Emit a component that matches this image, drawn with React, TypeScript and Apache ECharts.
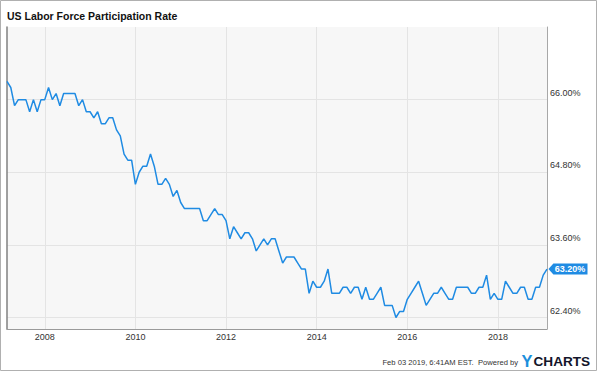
import React, { useEffect, useRef } from 'react';
import * as echarts from 'echarts';

const FONT = '"Liberation Sans", Arial, Helvetica, sans-serif';
const BLUE = '#1f8be3';

const chartTitle = 'US Labor Force Participation Rate';
const footerText = 'Feb 03 2019, 6:41AM EST.  Powered by';

// Monthly series starts at end of February 2007
const START_YEAR = 2007;
const START_MONTH = 2;

const rate2007 = [66.3, 66.2, 65.9, 66.0, 66.0, 66.0, 65.8, 66.0, 65.8, 66.0, 66.0];
const rate2008 = [66.2, 66.0, 66.1, 65.9, 66.1, 66.1, 66.1, 66.1, 65.9, 66.0, 65.8, 65.8];
const rate2009 = [65.7, 65.8, 65.6, 65.6, 65.7, 65.7, 65.5, 65.4, 65.1, 65.0, 65.0, 64.6];
const rate2010 = [64.8, 64.9, 64.9, 65.1, 64.9, 64.6, 64.6, 64.7, 64.6, 64.4, 64.5, 64.3];
const rate2011 = [64.2, 64.2, 64.2, 64.2, 64.2, 64.0, 64.0, 64.1, 64.2, 64.1, 64.1, 64.0];
const rate2012 = [63.7, 63.9, 63.8, 63.7, 63.8, 63.8, 63.7, 63.5, 63.6, 63.7, 63.6, 63.7];
const rate2013 = [63.7, 63.5, 63.3, 63.4, 63.4, 63.4, 63.3, 63.2, 63.2, 62.8, 63.0, 62.9];
const rate2014 = [62.9, 63.0, 63.2, 62.8, 62.8, 62.8, 62.9, 62.9, 62.8, 62.9, 62.9, 62.7];
const rate2015 = [62.9, 62.7, 62.7, 62.8, 62.9, 62.6, 62.6, 62.6, 62.4, 62.5, 62.5, 62.7];
const rate2016 = [62.8, 62.9, 63.0, 62.8, 62.6, 62.7, 62.8, 62.8, 62.9, 62.8, 62.7, 62.7];
const rate2017 = [62.9, 62.9, 62.9, 62.9, 62.8, 62.8, 62.9, 62.9, 63.1, 62.7, 62.8, 62.7];
const rate2018 = [62.7, 63.0, 62.9, 62.8, 62.8, 62.9, 62.9, 62.7, 62.7, 62.9, 62.9, 63.1];
const rate2019 = [63.2];

const yearTicks = [2008, 2010, 2012, 2014, 2016, 2018];
const rateTicks = [62.4, 63.6, 64.8, 66.0];

export default function App() {
  const ref = useRef<HTMLDivElement>(null);

  useEffect(() => {
    const chart = echarts.init(ref.current!, null, { renderer: 'svg' });
    const rates = [
      ...rate2007, ...rate2008, ...rate2009, ...rate2010, ...rate2011, ...rate2012,
      ...rate2013, ...rate2014, ...rate2015, ...rate2016, ...rate2017, ...rate2018, ...rate2019,
    ];
    const data = rates.map((v, i) => [START_YEAR + (START_MONTH + i) / 12, v]);
    const first = data[0];
    const last = data[data.length - 1];

    chart.setOption({
      animation: false,
      backgroundColor: '#ffffff',
      textStyle: { fontFamily: FONT },
      title: {
        text: chartTitle,
        left: 7,
        top: 10,
        padding: 0,
        textStyle: { fontSize: 10.5, fontWeight: 'bold', color: '#111', fontFamily: FONT },
      },
      grid: {
        left: 7,
        right: 53,
        top: 27,
        bottom: 43,
        show: true,
        backgroundColor: '#f7f7f7',
        borderWidth: 0,
      },
      xAxis: {
        type: 'value',
        min: first[0],
        max: last[0],
        axisLine: { show: true, onZero: false, lineStyle: { color: '#9a9a9a', width: 1 } },
        axisTick: { show: false, customValues: yearTicks },
        axisLabel: {
          customValues: yearTicks,
          formatter: (v: number) => String(Math.round(v)),
          fontSize: 9,
          color: '#333',
          margin: 3,
          fontFamily: FONT,
        },
        splitLine: { show: true, lineStyle: { color: '#e4e4e4', width: 1 } },
      },
      yAxis: [
        {
          type: 'value',
          position: 'right',
          min: 62.21,
          max: 67.2,
          axisLine: { show: true, onZero: false, lineStyle: { color: '#a8a8a8', width: 1 } },
          axisTick: { show: false, customValues: rateTicks },
          axisLabel: {
            customValues: rateTicks,
            formatter: (v: number) => v.toFixed(2) + '%',
            fontSize: 9,
            color: '#333',
            margin: 3,
            verticalAlign: 'bottom',
            lineHeight: 14,
            fontFamily: FONT,
          },
          splitLine: { show: true, lineStyle: { color: '#e4e4e4', width: 1 } },
        },
        {
          type: 'value',
          position: 'left',
          min: 62.21,
          max: 67.2,
          axisLine: { show: true, onZero: false, lineStyle: { color: '#808080', width: 1.5 } },
          axisTick: { show: false },
          axisLabel: { show: false },
          splitLine: { show: false },
        },
      ],
      series: [
        {
          type: 'line',
          data,
          yAxisIndex: 0,
          showSymbol: false,
          symbol: 'none',
          lineStyle: { color: BLUE, width: 1.5 },
          itemStyle: { color: BLUE },
          markPoint: {
            symbol: 'path://M0,5L5,0L40,0L40,10L5,10Z',
            symbolSize: [39, 11],
            symbolOffset: [21, 0],
            symbolKeepAspect: false,
            itemStyle: { color: BLUE },
            label: {
              show: true,
              position: 'inside',
              offset: [2, 0],
              formatter: (p: any) => Number(p.value).toFixed(2) + '%',
              color: '#fff',
              fontSize: 9,
              fontWeight: 'bold',
              fontFamily: FONT,
            },
            data: [{ coord: last, value: last[1] }],
          },
        },
      ],
      graphic: [
        {
          type: 'rect',
          silent: true,
          shape: { x: 0.5, y: 0.5, width: 596, height: 370 },
          style: { fill: 'none', stroke: '#b0b0b0', lineWidth: 1 },
        },
        {
          type: 'text',
          x: 518,
          y: 362,
          style: {
            text: footerText,
            fontSize: 7.6,
            fontFamily: FONT,
            fill: '#333',
            align: 'right',
            verticalAlign: 'middle',
          },
        },
        {
          type: 'text',
          x: 521.5,
          y: 360.5,
          style: {
            text: 'Y',
            fontSize: 16.5,
            fontWeight: 'bold',
            fontFamily: FONT,
            fill: '#1b8fdc',
            align: 'left',
            verticalAlign: 'middle',
          },
        },
        {
          type: 'text',
          x: 533.5,
          y: 361,
          style: {
            text: 'CHARTS',
            fontSize: 13.6,
            fontWeight: 'bold',
            fontFamily: FONT,
            fill: '#13152a',
            align: 'left',
            verticalAlign: 'middle',
          },
        },
      ],
    });

    return () => chart.dispose();
  }, []);

  return (
    <div
      ref={ref}
      style={{ position: 'absolute', left: 0, top: 0, width: 600, height: 372, background: '#fff' }}
    />
  );
}
